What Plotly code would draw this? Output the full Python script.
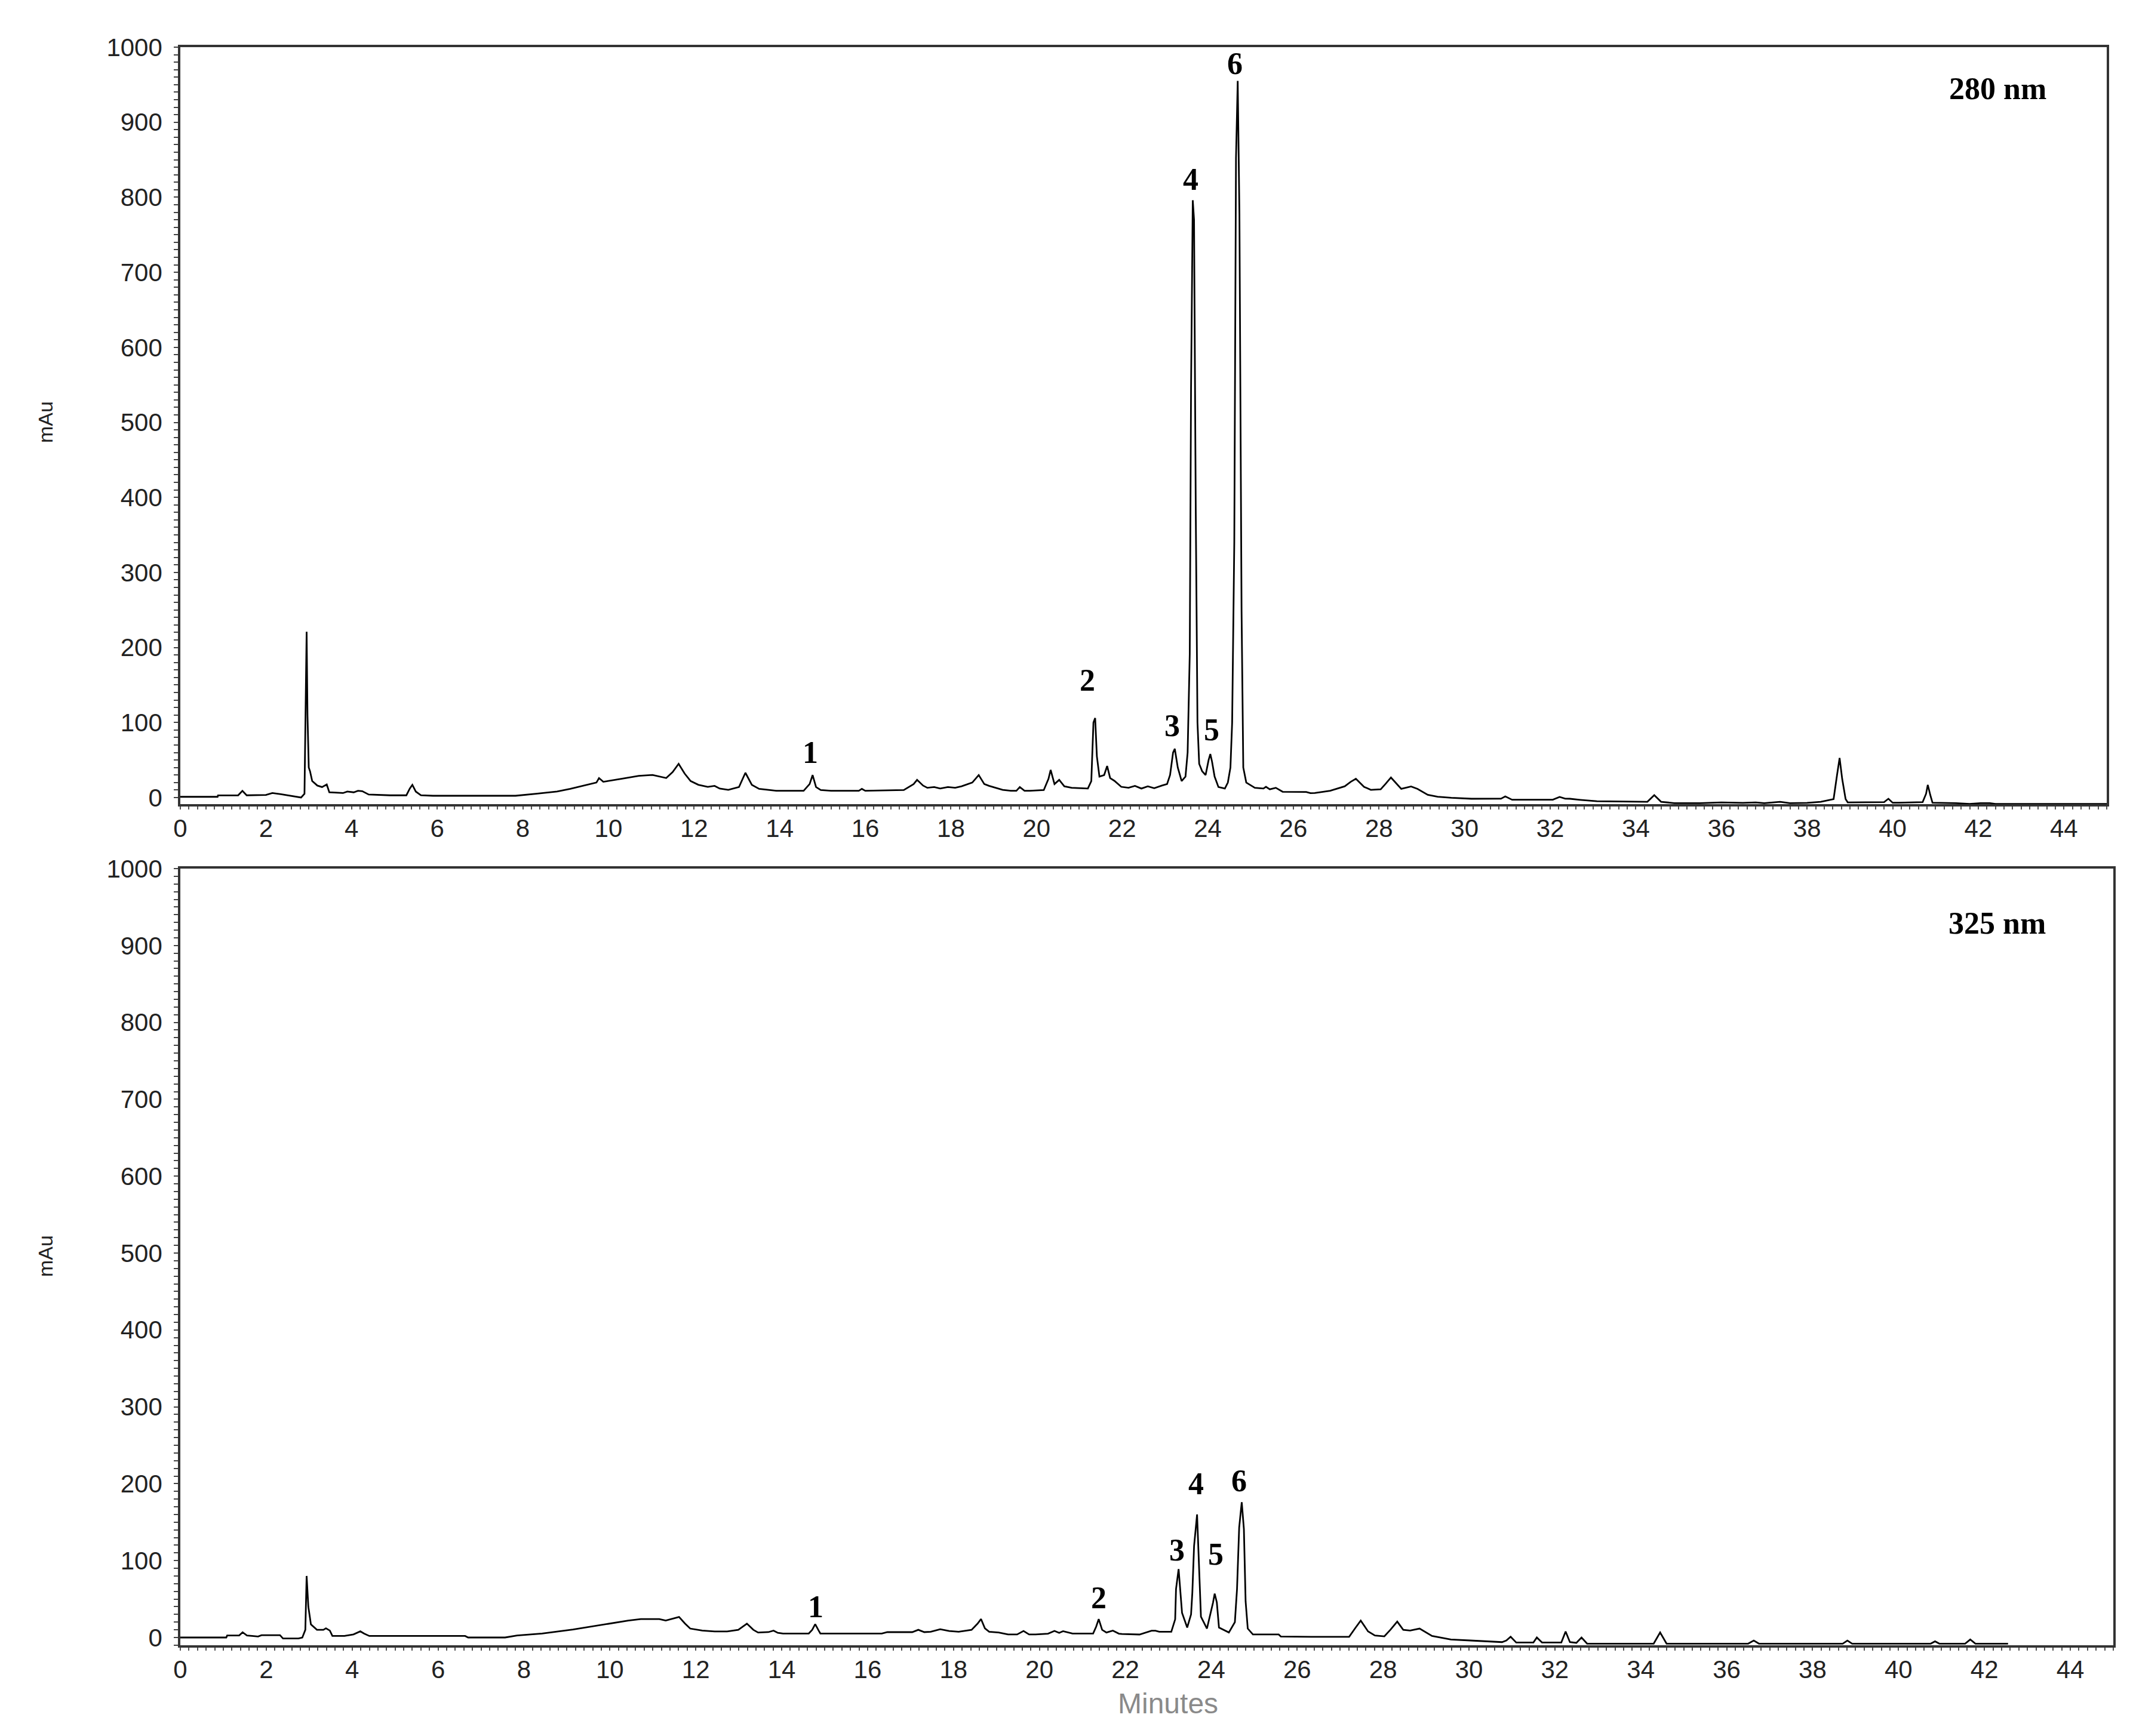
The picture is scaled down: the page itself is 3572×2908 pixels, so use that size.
import plotly.graph_objects as go

# ---------------- data ----------------
t_280 = [0.0, 0.87, 0.88, 1.35, 1.45, 1.55, 2.0, 2.15, 2.35, 2.6, 2.82, 2.90, 2.93, 2.95, 2.97, 3.00,
         3.03, 3.08, 3.2, 3.31, 3.42, 3.48, 3.8, 3.9, 4.05, 4.15, 4.25, 4.4, 4.9, 5.28, 5.36, 5.42,
         5.5, 5.62, 5.9, 7.83, 8.31, 8.8, 9.11, 9.5, 9.72, 9.78, 9.88, 10.3, 10.71, 11.03, 11.35,
         11.5, 11.64, 11.78, 11.92, 12.1, 12.32, 12.48, 12.6, 12.8, 13.05, 13.2, 13.35, 13.52,
         13.92, 14.56, 14.7, 14.77, 14.85, 14.96, 15.2, 15.85, 15.92, 16.0, 16.9, 17.13, 17.21,
         17.35, 17.45, 17.61, 17.75, 17.93, 18.1, 18.25, 18.5, 18.65, 18.78, 18.89, 19.21, 19.4,
         19.53, 19.61, 19.72, 19.85, 20.17, 20.28, 20.33, 20.42, 20.53, 20.65, 20.82, 21.2,
         21.28, 21.33, 21.37, 21.41, 21.47, 21.58, 21.65, 21.72, 21.82, 21.98, 22.15, 22.3, 22.45,
         22.6, 22.75, 22.93, 23.05, 23.12, 23.19, 23.23, 23.3, 23.39, 23.48, 23.53, 23.58, 23.61,
         23.65, 23.68, 23.72, 23.76, 23.80, 23.87, 23.95, 24.02, 24.06, 24.10, 24.16, 24.25,
         24.4, 24.47, 24.53, 24.57, 24.62, 24.66, 24.70, 24.74, 24.79, 24.83, 24.9, 25.1, 25.3,
         25.36, 25.45, 25.59, 25.75, 26.3, 26.4, 26.5, 26.86, 27.2, 27.34, 27.46, 27.65, 27.81,
         28.04, 28.15, 28.28, 28.52, 28.75, 28.9, 29.14, 29.37, 29.69, 30.16, 30.85, 30.95,
         31.11, 32.06, 32.22, 32.35, 32.46, 32.7, 33.09, 34.27, 34.43, 34.59, 34.9, 35.5, 36.0,
         36.5, 36.8, 37.0, 37.37, 37.6, 38.0, 38.32, 38.62, 38.7, 38.76, 38.82, 38.9, 38.95,
         39.8, 39.9, 40.0, 40.14, 40.7, 40.78, 40.82, 40.88, 40.93, 41.48, 41.8, 42.05, 42.27,
         42.4, 45.0]
mau_280 = [1.0, 1.0, 2.9, 3.0, 9.0, 3.0, 3.5, 6.0, 4.5, 2.0, 0.0, 5.0, 120, 221, 110, 40,
           35, 22, 16, 14, 17.5, 7, 6, 8, 7, 9, 8.5, 4, 3, 3, 12, 17,
           8, 3, 2.4, 2.4, 5, 8, 11.6, 17, 20, 26, 21, 25, 28.9, 30.2, 26,
           34, 45, 32, 22, 17, 14.3, 15.6, 12, 10.3, 14, 33, 17, 11.6,
           9, 9, 18, 30, 14, 10, 9, 9, 11.6, 9, 10, 18, 23.6,
           16, 13, 14, 12, 14, 13, 15, 20, 30, 18, 15.6, 10.3, 9,
           9, 14, 9, 9, 10, 25, 36.8, 18, 23.6, 15, 13, 12,
           22, 100, 106, 55, 28, 30, 42, 26, 22.3, 14.3, 13, 15.5, 12,
           15, 12.5, 16, 18, 30, 60, 65, 40, 22, 28, 60, 192, 545,
           796, 770, 383, 100, 45, 35, 30, 50, 58, 48, 28, 14,
           12, 20, 40, 100, 340, 852, 955, 778, 248, 40, 20, 13, 12,
           14.3, 11, 13, 7.7, 7.5, 5.8, 6, 9, 15, 21, 25, 14.3, 10.3,
           11, 18, 26.7, 11.6, 14.8, 11.6, 3.7, 1.1, -0.3, -1.6, -1.5, 1.6,
           -2.9, -2.9, 0.8, -1.5, -1.6, -3, -4.8, -5.6, 3.2, -5.6, -7.4, -7.5, -6.5,
           -7.0, -6.4, -7.4, -5.6, -7.4, -7, -5.6, -2, 30, 52.7, 25, -2, -6.4,
           -6, -1.6, -6.9, -6.9, -6, 5, 16.9, 3, -6.9, -7.4, -8.5, -7.4, -7.4,
           -8.5, -8.5]

t_325 = [0.0, 1.07, 1.09, 1.37, 1.45, 1.55, 1.67, 1.81, 1.89, 2.32, 2.39, 2.75, 2.84, 2.91, 2.94,
         2.98, 3.04, 3.18, 3.33, 3.39, 3.48, 3.54, 3.82, 4.03, 4.19, 4.28, 4.40, 6.63, 6.70,
         7.56, 7.84, 8.42, 9.14, 9.85, 10.43, 10.72, 11.15, 11.30, 11.45, 11.61, 11.75, 11.87,
         12.15, 12.44, 12.73, 12.99, 13.19, 13.34, 13.45, 13.69, 13.81, 13.91, 14.03, 14.63,
         14.71, 14.78, 14.86, 14.9, 16.33, 16.46, 17.04, 17.18, 17.32, 17.47, 17.69, 17.9,
         18.12, 18.42, 18.56, 18.64, 18.73, 18.83, 19.05, 19.27, 19.48, 19.63, 19.76, 19.91,
         20.2, 20.35, 20.46, 20.55, 20.77, 21.25, 21.32, 21.38, 21.46, 21.56, 21.71, 21.85,
         21.92, 22.33, 22.61, 22.70, 22.79, 23.07, 23.16, 23.18, 23.24, 23.28, 23.32, 23.44,
         23.53, 23.56, 23.60, 23.67, 23.72, 23.76, 23.90, 24.0, 24.04, 24.08, 24.13, 24.18,
         24.41, 24.55, 24.60, 24.65, 24.71, 24.76, 24.80, 24.85, 24.97, 25.57, 25.62, 26.33,
         27.21, 27.35, 27.48, 27.65, 27.81, 28.03, 28.17, 28.33, 28.47, 28.63, 28.85, 29.14,
         29.58, 30.03, 30.77, 30.87, 30.97, 31.1, 31.5, 31.58, 31.7, 32.15, 32.25, 32.35,
         32.5, 32.62, 32.75, 33.07, 34.3, 34.45, 34.6, 36.5, 36.63, 36.75, 38.7, 38.81, 38.92,
         40.75, 40.85, 40.95, 41.55, 41.67, 41.79, 42.55]
mau_325 = [0, 0, 2.6, 2.6, 6.8, 2.6, 2.0, 1.3, 3, 3, -1.3, -1.3, 0, 10, 80,
           40, 17, 10, 10, 12, 9, 2, 2, 4, 8, 5, 2, 2, 0,
           0, 2.6, 5.2, 10.4, 16.8, 22, 24, 24, 22, 24, 26.7, 18, 11.6,
           9, 7.8, 7.8, 10, 18, 10, 6.5, 7, 9, 6, 5.2, 5.2,
           10, 17.3, 9, 5.2, 5.2, 7, 7, 10, 7, 7.5, 10.8, 8.5,
           7.5, 10, 18, 24, 12, 7.5, 6.5, 3.9, 3.9, 8.5, 4, 3.9,
           5, 8.5, 6, 8.2, 5.2, 5.2, 14, 24, 10, 6.5, 9, 5,
           4.5, 3.9, 8.8, 8.8, 7.5, 7.5, 23.6, 63, 89, 58, 32, 13,
           30, 58.5, 119, 160, 81, 27, 11.6, 35, 45, 57, 45.6, 13,
           6.5, 20, 63, 143, 176, 141, 47, 11.6, 3.9, 3.9, 1.3, 0.9,
           0.9, 12, 22, 8, 2.6, 1.5, 10, 20.7, 10, 9, 11.6, 2,
           -2.6, -3.9, -6, -4, 1, -6.5, -6.5, 0, -6.5, -6.5, 7.8, -6,
           -7, 0, -8, -8, -8, 6.5, -8, -8, -4, -8, -8, -4, -8,
           -8, -5, -8, -8, -2.6, -8, -8]

peak_ids = ["1", "2", "3", "4", "5", "6"]
label_t_280 = [14.72, 21.19, 23.17, 23.60, 24.09, 24.63]
label_y_280 = [60, 156, 96, 824, 90, 978]
label_t_325 = [14.79, 21.38, 23.20, 23.65, 24.11, 24.65]
label_y_325 = [40, 52, 114, 200, 108, 204]
wavelengths = ["280 nm", "325 nm"]
x_ticks = list(range(0, 45, 2))
y_ticks = list(range(0, 1001, 100))

# ---------------- figure ----------------
W, H = 3572, 2908
fig = go.Figure()
fig.add_trace(go.Scatter(x=t_280, y=mau_280, mode="lines", xaxis="x", yaxis="y",
                         line=dict(color="black", width=2.8), hoverinfo="skip"))
fig.add_trace(go.Scatter(x=t_325, y=mau_325, mode="lines", xaxis="x2", yaxis="y2",
                         line=dict(color="black", width=2.8), hoverinfo="skip"))

tick_font = dict(family="Liberation Sans, Arial, sans-serif", size=42, color="#222222")
AX_LINE = "#333333"


def x_main(domain, anchor):
    return dict(domain=domain, range=[0, 45], anchor=anchor, tickvals=x_ticks,
                ticks="", showgrid=False, zeroline=False, showline=True,
                linecolor=AX_LINE, linewidth=3.5, mirror=True, tickfont=tick_font,
                ticklabelstandoff=1,
                minor=dict(ticks="outside", dtick=0.2, tick0=0, ticklen=5,
                           tickcolor="#555555", tickwidth=1.5, showgrid=False))


def y_main(domain, anchor, rng):
    return dict(domain=domain, range=rng, anchor=anchor, tickvals=y_ticks,
                ticks="", showgrid=False, zeroline=False, showline=True,
                linecolor=AX_LINE, linewidth=3.5, mirror=True, tickfont=tick_font,
                ticklabelstandoff=18,
                minor=dict(ticks="outside", dtick=10, tick0=0, ticklen=7,
                           tickcolor="#444444", tickwidth=2, showgrid=False))


def x_mid(over, anchor):
    return dict(overlaying=over, anchor=anchor, range=[0, 45],
                tickvals=list(range(1, 46, 2)), ticks="outside", ticklen=9,
                tickwidth=2, tickcolor="#444444", showticklabels=False,
                showline=False, showgrid=False, zeroline=False)


def y_mid(over, anchor, rng):
    return dict(overlaying=over, anchor=anchor, range=rng,
                tickvals=list(range(50, 1000, 100)), ticks="outside", ticklen=13,
                tickwidth=2, tickcolor="#444444", showticklabels=False,
                showline=False, showgrid=False, zeroline=False)


L, R, T, B = 294, 41, 71, 160
PW, PH = W - L - R, H - T - B
top_dom_x = [0, (3520 - L) / PW]
bot_dom_x = [0, 1]
top_dom_y = [(H - B - 1339) / PH, 1]
bot_dom_y = [0, (H - B - 1447) / PH]
top_rng = [-8.75, 1000]
bot_rng = [-10.1, 1000]

fig.update_layout(
    width=W, height=H, autosize=False,
    margin=dict(l=L, r=R, t=T, b=B, pad=0),
    plot_bgcolor="white", paper_bgcolor="white", showlegend=False,
    xaxis=x_main(top_dom_x, "y"),
    yaxis=y_main(top_dom_y, "x", top_rng),
    xaxis2=x_main(bot_dom_x, "y2"),
    yaxis2=y_main(bot_dom_y, "x2", bot_rng),
    xaxis3=x_mid("x", "y"),
    yaxis3=y_mid("y", "x", top_rng),
    xaxis4=x_mid("x2", "y2"),
    yaxis4=y_mid("y2", "x2", bot_rng),
)

serif_bold = dict(family="Liberation Serif, Times New Roman, serif", size=52,
                  color="black", weight="bold")
ann = []
for lab, tx, ty in zip(peak_ids, label_t_280, label_y_280):
    ann.append(dict(x=tx, y=ty, xref="x", yref="y", text=lab, showarrow=False,
                    font=serif_bold, xanchor="center", yanchor="middle"))
for lab, tx, ty in zip(peak_ids, label_t_325, label_y_325):
    ann.append(dict(x=tx, y=ty, xref="x2", yref="y2", text=lab, showarrow=False,
                    font=serif_bold, xanchor="center", yanchor="middle"))
ann.append(dict(x=42.45, y=945, xref="x", yref="y", text=wavelengths[0], showarrow=False,
                font=serif_bold, xanchor="center", yanchor="middle"))
ann.append(dict(x=42.3, y=929, xref="x2", yref="y2", text=wavelengths[1], showarrow=False,
                font=serif_bold, xanchor="center", yanchor="middle"))

title_font = dict(family="Liberation Sans, Arial, sans-serif", size=34, color="#222222")
ann.append(dict(x=(68 - L) / PW, y=(H - B - 699) / PH, xref="paper", yref="paper",
                text="mAu", textangle=-90, showarrow=False, font=title_font,
                xanchor="center", yanchor="middle"))
ann.append(dict(x=(68 - L) / PW, y=(H - B - 2096) / PH, xref="paper", yref="paper",
                text="mAu", textangle=-90, showarrow=False, font=title_font,
                xanchor="center", yanchor="middle"))
ann.append(dict(x=(1948 - L) / PW, y=(H - B - 2845) / PH, xref="paper", yref="paper",
                text="Minutes", showarrow=False,
                font=dict(family="Liberation Sans, Arial, sans-serif", size=48, color="#8a8a8a"),
                xanchor="center", yanchor="middle"))
fig.update_layout(annotations=ann)

fig.write_html("out.html")
